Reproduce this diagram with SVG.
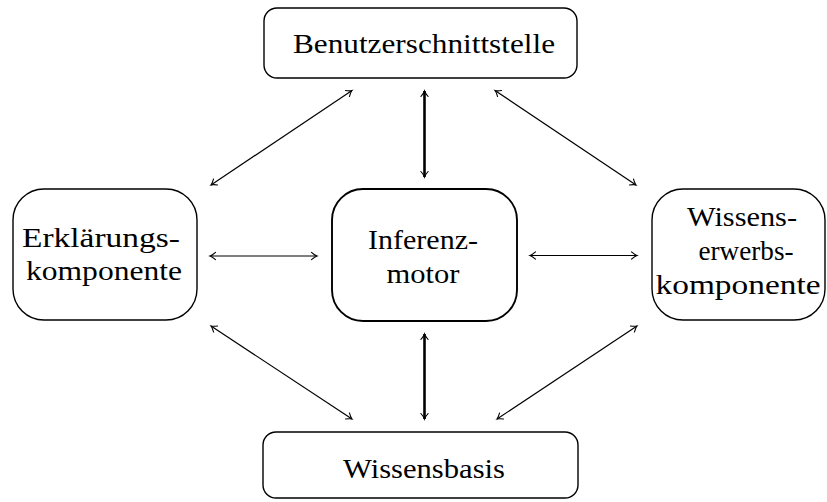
<svg xmlns="http://www.w3.org/2000/svg" width="827" height="502" viewBox="0 0 827 502">
<style>
  .box { fill: #fff; stroke: #000; stroke-width: 1.4; }
  .main { stroke-width: 1.9; }
  .lbl { font-family: "Liberation Serif", "Times New Roman", serif; font-size: 27.5px; fill: #000; text-anchor: middle; }
  .conn { stroke: #000; fill: none; stroke-width: 1.2; marker-start: url(#ah); marker-end: url(#ah); }
  .thick { stroke-width: 2.6; }
</style>
<defs>
  <marker id="ah" viewBox="-8 -5 10 10" markerWidth="10" markerHeight="10" refX="0" refY="0" orient="auto-start-reverse" markerUnits="userSpaceOnUse">
    <path d="M-5.5,-3.6 Q-2,-0.6 0,0 Q-2,0.6 -5.5,3.6" fill="none" stroke="#000" stroke-width="1.1" stroke-linecap="round"/>
  </marker>
</defs>
<rect width="827" height="502" fill="#fff"/>
<g id="connectors">
  <line class="conn" x1="352" y1="90.5" x2="211" y2="185"/>
  <line class="conn thick" x1="424.5" y1="91" x2="424.5" y2="177"/>
  <line class="conn" x1="495" y1="90.5" x2="636" y2="185"/>
  <line class="conn" x1="210" y1="256" x2="317" y2="256"/>
  <line class="conn" x1="530" y1="255.5" x2="637" y2="255.5"/>
  <line class="conn" x1="211" y1="326" x2="352" y2="419"/>
  <line class="conn thick" x1="424.5" y1="334" x2="424.5" y2="419"/>
  <line class="conn" x1="637" y1="326" x2="497" y2="419"/>
</g>
<g id="benutzerschnittstelle">
  <rect class="box" x="264" y="8" width="313" height="70" rx="13" ry="13"/>
  <text class="lbl" x="424" y="53" textLength="262" lengthAdjust="spacingAndGlyphs">Benutzerschnittstelle</text>
</g>
<g id="erklaerungskomponente">
  <rect class="box" x="13" y="189" width="184" height="131" rx="31" ry="31"/>
  <text class="lbl" x="101" y="247" textLength="158" lengthAdjust="spacingAndGlyphs">Erklärungs-</text>
  <text class="lbl" x="104" y="280" textLength="156" lengthAdjust="spacingAndGlyphs">komponente</text>
</g>
<g id="inferenzmotor">
  <rect class="box main" x="332" y="189" width="185" height="132" rx="31" ry="31"/>
  <text class="lbl" x="423" y="249" textLength="110" lengthAdjust="spacingAndGlyphs">Inferenz-</text>
  <text class="lbl" x="423" y="283" textLength="73" lengthAdjust="spacingAndGlyphs">motor</text>
</g>
<g id="wissenserwerbskomponente">
  <rect class="box" x="652" y="189" width="173" height="131" rx="31" ry="31"/>
  <text class="lbl" x="742" y="226" textLength="110" lengthAdjust="spacingAndGlyphs">Wissens-</text>
  <text class="lbl" x="746" y="260" textLength="95" lengthAdjust="spacingAndGlyphs">erwerbs-</text>
  <text class="lbl" x="738" y="294" textLength="165" lengthAdjust="spacingAndGlyphs">komponente</text>
</g>
<g id="wissensbasis">
  <rect class="box" x="263" y="432" width="315" height="66" rx="13" ry="13"/>
  <text class="lbl" x="424" y="478" textLength="162" lengthAdjust="spacingAndGlyphs">Wissensbasis</text>
</g>
</svg>
